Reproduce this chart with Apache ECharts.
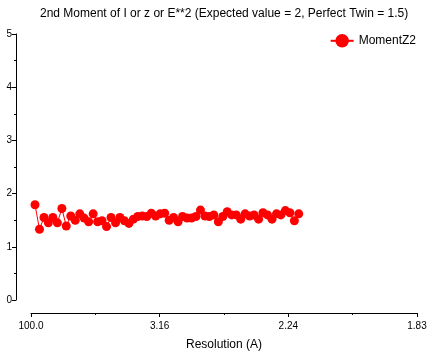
<!DOCTYPE html>
<html>
<head>
<meta charset="utf-8">
<script src="https://cdn.jsdelivr.net/npm/echarts@6/dist/echarts.min.js"></script>
<style>html,body{margin:0;padding:0;background:#fff}#c{width:439px;height:354px}</style>
</head>
<body>
<div id="c"></div>
<script>
// 1/d^2 positions of the resolution bins
var xValues = [0.0031,0.0066,0.0101,0.0135,0.0170,0.0205,0.0240,0.0274,0.0309,0.0344,
  0.0379,0.0413,0.0448,0.0483,0.0518,0.0552,0.0587,0.0622,0.0657,0.0691,
  0.0726,0.0761,0.0796,0.0830,0.0865,0.0900,0.0935,0.0969,0.1004,0.1039,
  0.1074,0.1108,0.1143,0.1178,0.1213,0.1247,0.1282,0.1317,0.1352,0.1386,
  0.1421,0.1456,0.1491,0.1525,0.1560,0.1595,0.1630,0.1664,0.1699,0.1734,
  0.1769,0.1803,0.1838,0.1873,0.1908,0.1942,0.1977,0.2012,0.2047,0.2081];
var momentZ2 = [1.79,1.33,1.55,1.45,1.55,1.45,1.72,1.39,1.58,1.50,
  1.62,1.54,1.47,1.62,1.47,1.49,1.38,1.55,1.45,1.55,
  1.49,1.44,1.52,1.57,1.58,1.57,1.63,1.58,1.62,1.63,
  1.50,1.55,1.47,1.57,1.54,1.54,1.57,1.69,1.58,1.57,
  1.60,1.47,1.57,1.66,1.60,1.60,1.52,1.62,1.58,1.60,
  1.52,1.64,1.60,1.52,1.62,1.60,1.68,1.64,1.49,1.62];
var xTickLabels = ['100.0','3.16','2.24','1.83'];
var seriesName = 'MomentZ2';
var titleText = '2nd Moment of I or z or E**2 (Expected value = 2, Perfect Twin = 1.5)';

var font = 'Liberation Sans, Arial, sans-serif';
var chart = echarts.init(document.getElementById('c'), null, {renderer:'canvas'});
var data = xValues.map(function(x,i){return [x, momentZ2[i]];});
chart.setOption({
  animation:false,
  backgroundColor:'#fff',
  title:{text:titleText,left:35,top:3,textStyle:{fontFamily:font,fontSize:12,fontWeight:'normal',color:'#000'}},
  legend:{data:[seriesName],right:18,top:29,itemWidth:23,itemHeight:17,itemGap:6,
    textStyle:{fontFamily:font,fontSize:12,color:'#000'}},
  grid:{left:31,right:22,top:34,bottom:54,containLabel:false,outerBoundsMode:'none'},
  xAxis:{type:'value',min:0,max:0.3,interval:0.1,offset:13,
    name:'Resolution (A)',nameLocation:'middle',nameGap:26,
    nameTextStyle:{fontFamily:font,fontSize:12,color:'#000'},
    axisLine:{show:true,onZero:false,lineStyle:{color:'#000',width:1}},
    axisTick:{show:true,length:4,lineStyle:{color:'#000'}},
    minorTick:{show:true,splitNumber:2,length:2,lineStyle:{color:'#000'}},
    splitLine:{show:false},
    axisLabel:{margin:8,fontFamily:font,fontSize:10,color:'#000',
      formatter:function(v){return xTickLabels[Math.round(v/0.1)];}}},
  yAxis:{type:'value',min:0,max:5,interval:1,offset:15,
    axisLine:{show:true,onZero:false,lineStyle:{color:'#000',width:1}},
    axisTick:{show:true,length:4,lineStyle:{color:'#000'}},
    minorTick:{show:true,splitNumber:2,length:2,lineStyle:{color:'#000'}},
    splitLine:{show:false},
    axisLabel:{margin:4,fontFamily:font,fontSize:10,color:'#000'}},
  series:[{name:seriesName,type:'line',data:data,symbol:'circle',symbolSize:9,
    showAllSymbol:true,
    itemStyle:{color:'#ff0000'},lineStyle:{color:'#ff0000',width:1}}]
});
</script>
</body>
</html>
